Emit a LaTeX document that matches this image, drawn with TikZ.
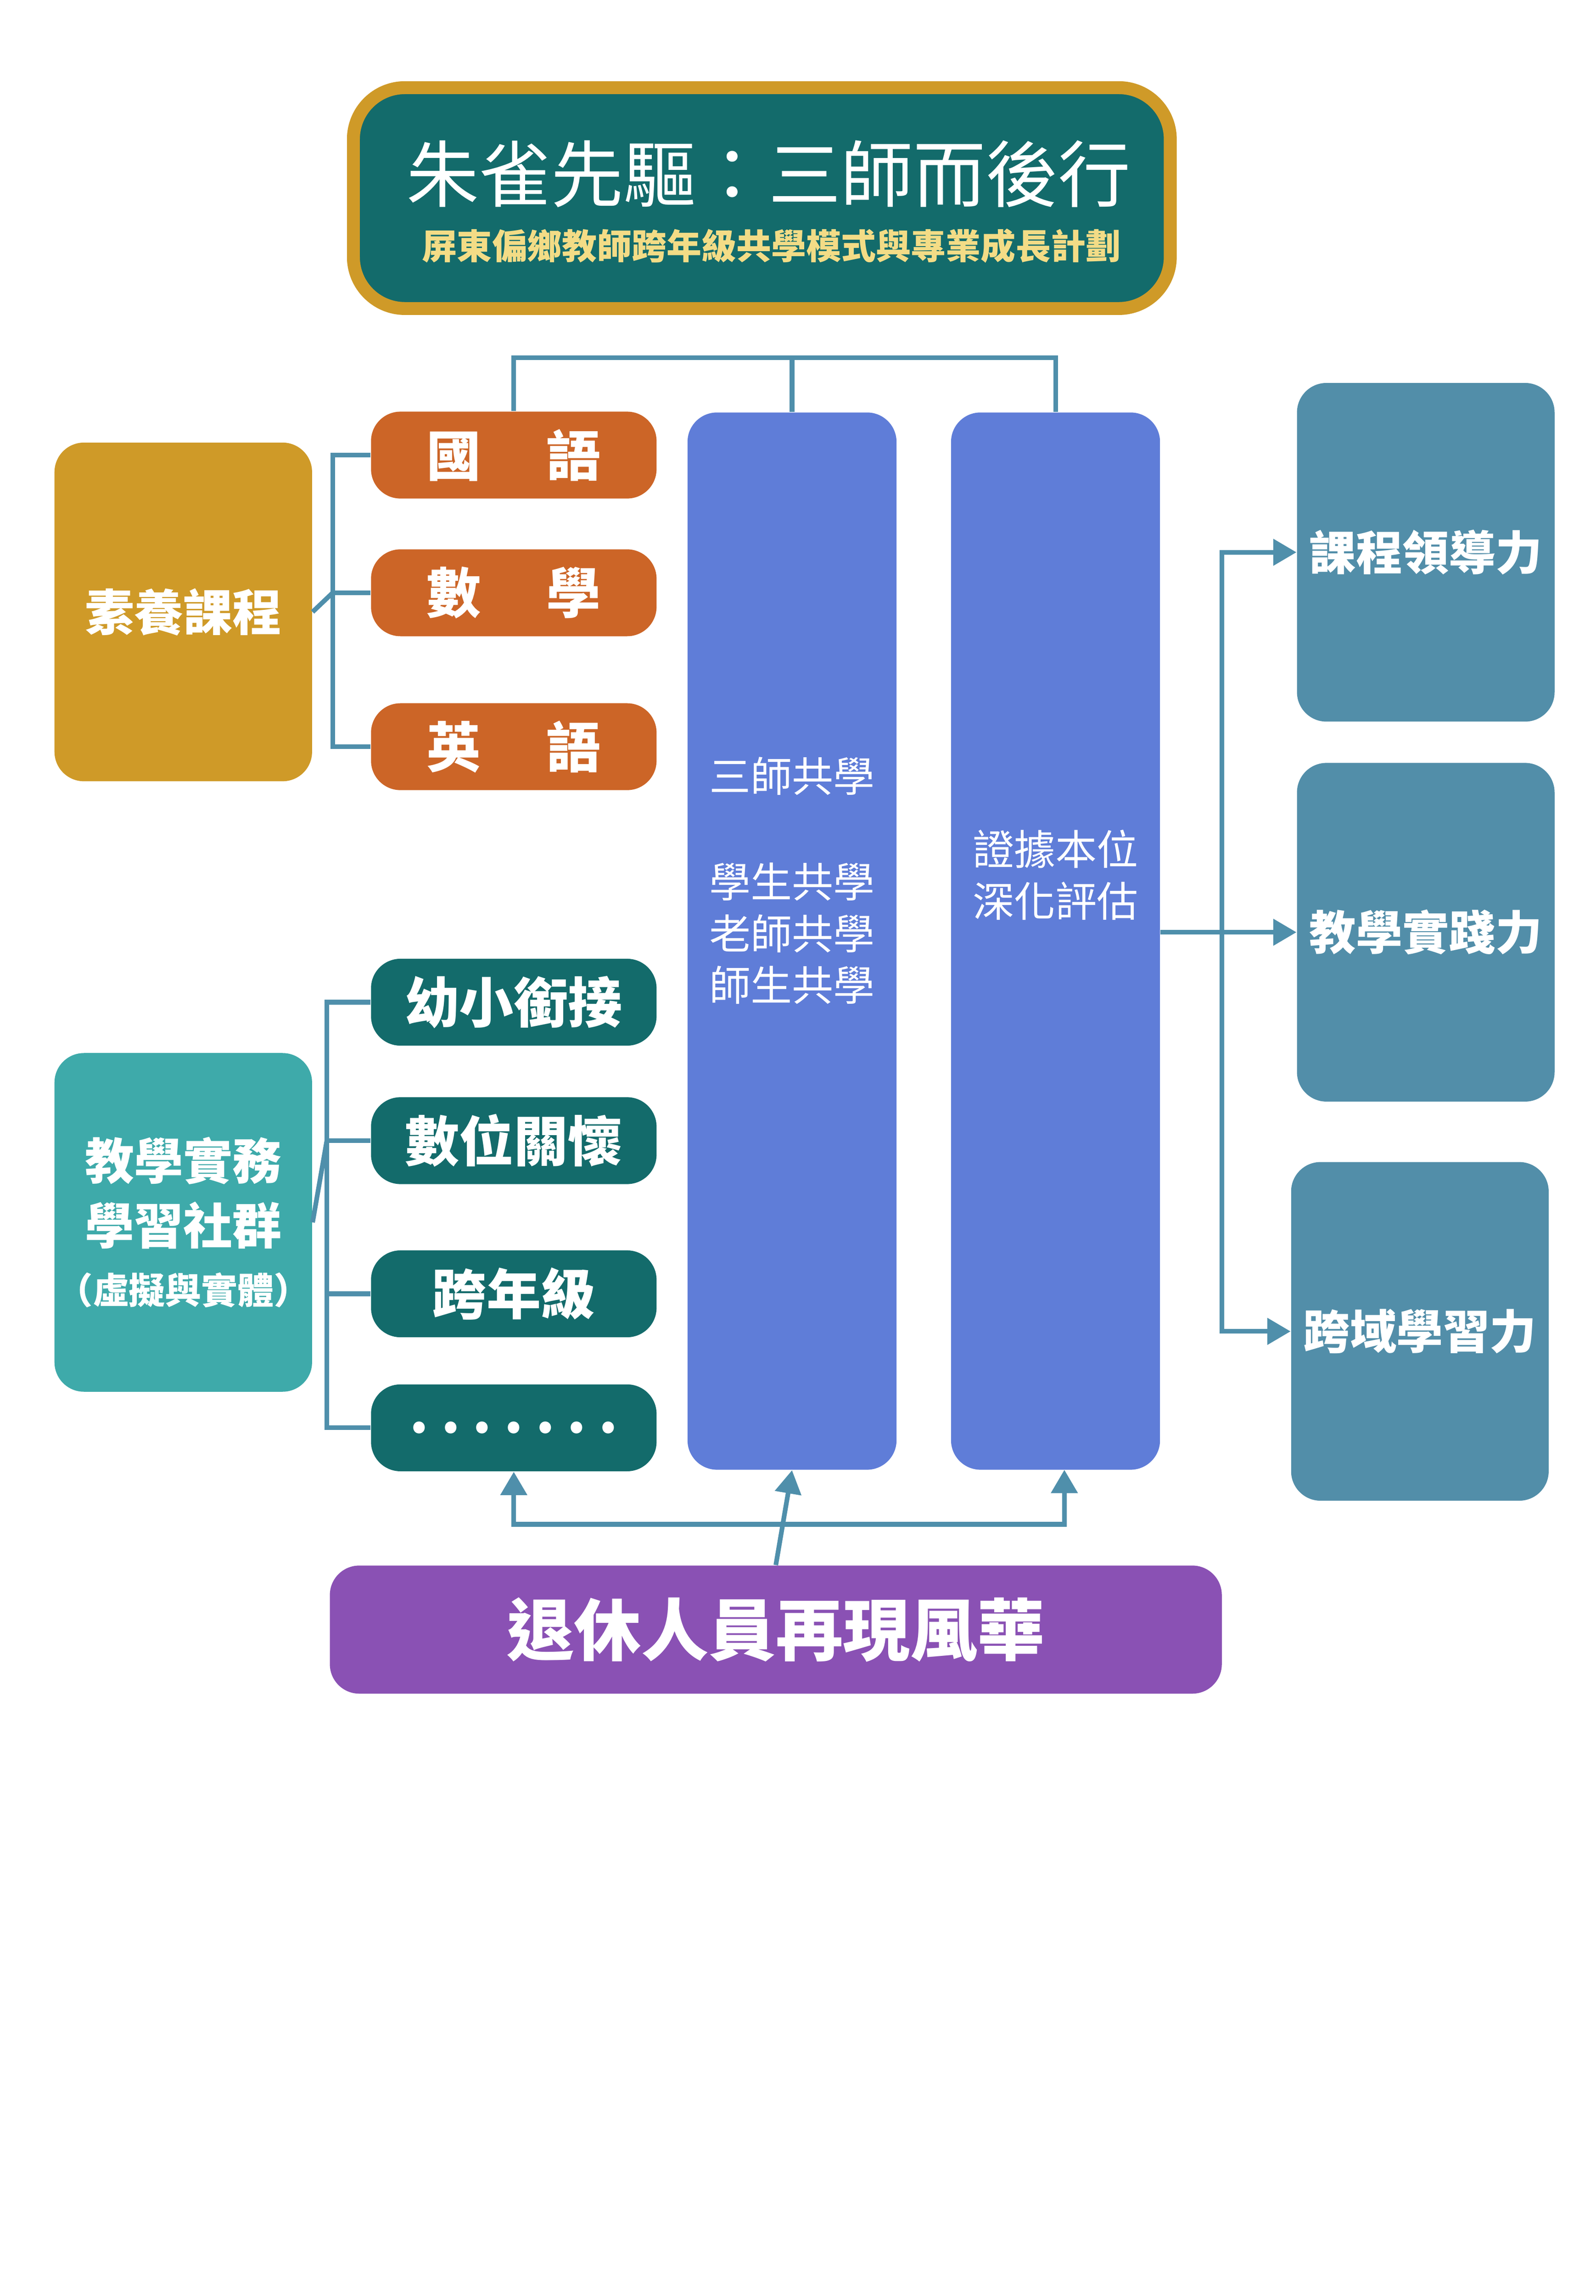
\documentclass[tikz,border=0pt]{standalone}
\usepackage{fontspec}
\setmainfont{Noto Sans CJK TC}
\usetikzlibrary{arrows.meta}
\definecolor{tealbox}{HTML}{136B6B}
\definecolor{goldbox}{HTML}{CF9A28}
\definecolor{orangebox}{HTML}{CC6527}
\definecolor{bluecol}{HTML}{5F7DD8}
\definecolor{steelbox}{HTML}{528EA9}
\definecolor{aquabox}{HTML}{3EAAAA}
\definecolor{purplebox}{HTML}{8A51B4}
\definecolor{linkline}{HTML}{4F8FAB}
\definecolor{subgold}{HTML}{F3DC86}
\begin{document}
\begin{tikzpicture}[x=0.02cm,y=-0.02cm,
    box/.style ={rounded corners=0.4cm, text=white, align=center, inner sep=0pt},
    subject/.style ={box, fill=orangebox, minimum width=3.88cm, minimum height=1.18cm, font=\fontsize{21}{24}\selectfont\bfseries},
    topic/.style ={box, fill=tealbox, minimum width=3.88cm, minimum height=1.18cm, font=\fontsize{21}{24}\selectfont\bfseries},
    side/.style ={box, minimum width=3.5cm, minimum height=4.6cm, font=\fontsize{19}{25}\selectfont\bfseries},
    column/.style ={box, fill=bluecol, minimum width=2.84cm, minimum height=14.36cm, font=\fontsize{16}{20}\selectfont},
    power/.style ={box, fill=steelbox, minimum width=3.5cm, minimum height=4.6cm, font=\fontsize{18}{22}\selectfont\bfseries},
    link/.style ={draw=linkline, line width=1.8pt},
    arr/.style ={link, -{Triangle[length=9pt,width=10pt]}}]
   \useasboundingbox (0,0) rectangle (1084,1559);
   % title
   \node[box, fill=tealbox, draw=goldbox, line width=5pt, rounded corners=0.7cm,
         minimum width=11.1cm, minimum height=3cm] (title) at (517.5,134.5) {};
   \node[text=white, font=\fontsize{28}{32}\selectfont] (main) at (522,118) {朱雀先驅：三師而後行};
   \node[text=subgold, font=\fontsize{13.5}{16}\selectfont\bfseries] (sub) at (524,167) {屏東偏鄉教師跨年級共學模式與專業成長計劃};

   % left groups
   \node[side, fill=goldbox] (suyang) at (124.5,415.5) {素養課程};
   \node[subject] (guo) at (349,309) {國\hspace{1.2em}語};
   \node[subject] (shu) at (349,402.5) {數\hspace{1.2em}學};
   \node[subject] (ying) at (349,507) {英\hspace{1.2em}語};
   \node[side, fill=aquabox] (shiwu) at (124.5,830) {教學實務\\學習社群\\[-2pt]{\fontsize{14}{16}\selectfont（虛擬與實體）}};
   \node[topic] (youxiao) at (349,680.5) {幼小銜接};
   \node[topic] (shuwei) at (349,774.5) {數位關懷};
   \node[topic] (kua) at (349,878.5) {跨年級};
   \node[topic] (dots) at (349,969.5) {.\ .\ .\ .\ .\ .\ .};

   % columns
   \node[column] (gong) at (538,639) {};
   \node[font=\fontsize{16}{20}\selectfont, text=white, align=center] (gongtxt) at (538,598) {三師共學\\[1.3em]學生共學\\老師共學\\師生共學};
   \node[column] (zheng) at (717,639) {};
   \node[font=\fontsize{16}{20}\selectfont, text=white, align=center] (zhengtxt) at (717,594) {證據本位\\深化評估};

   % right
   \node[power] (lead) at (968.5,375) {課程領導力};
   \node[power] (prac) at (968.5,633) {教學實踐力};
   \node[power] (cross) at (964.5,904) {跨域學習力};

   % bottom
   \node[box, fill=purplebox, minimum width=12.12cm, minimum height=1.74cm,
         font=\fontsize{26}{30}\selectfont\bfseries] (retire) at (527,1106.5) {退休人員再現風華};

   % brackets
   \draw[link] (suyang.east) -- (226,402.5);
   \draw[link] (guo.west) -| (226,507) -- (ying.west);
   \draw[link] (226,402.5) -- (shu.west);
   \draw[link] (shiwu.east) -- (222,774.5);
   \draw[link] (youxiao.west) -| (222,969.5) -- (dots.west);
   \draw[link] (222,774.5) -- (shuwei.west);
   \draw[link] (222,878.5) -- (kua.west);

   % top connector
   \draw[link] (guo.north) -- (349,243) -- (717,243) -- (zheng.north);
   \draw[link] (538,243) -- (gong.north);

   % right arrows
   \coordinate (split) at (830,633);
   \draw[link] (zheng.east |- split) -- (split);
   \draw[arr] (split) -- (prac.west);
   \draw[arr] (split) |- (lead.west);
   \draw[arr] (split) |- (cross.west);

   % bottom arrows
   \coordinate (rise) at (538,1035);
   \draw[arr] (retire.north) -- (gong.south);
   \draw[arr] (rise) -| (dots.south);
   \draw[arr] (rise) -| (723,998);
 \end{tikzpicture}
\end{document}
